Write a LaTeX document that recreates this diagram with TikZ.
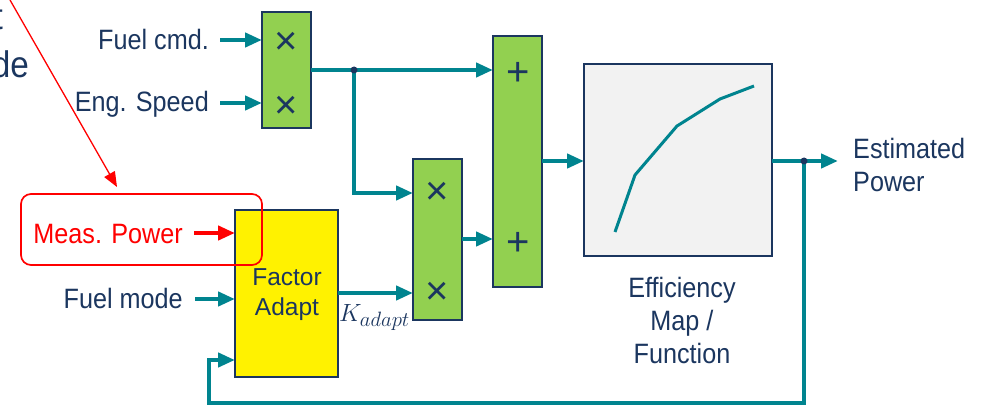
\documentclass[tikz,border=0pt]{standalone}
\usepackage{fontspec}
\setmainfont[FakeStretch=0.9]{Liberation Sans}
\newfontfamily\fafont{Liberation Sans}
\usetikzlibrary{arrows.meta}
\definecolor{navy}{HTML}{1B365F}
\definecolor{tealc}{HTML}{00848F}
\definecolor{greenf}{HTML}{92D050}
\definecolor{redc}{HTML}{FF0000}
\definecolor{grayf}{HTML}{F2F2F2}
\begin{document}
\begin{tikzpicture}[x=1pt,y=-1pt,
  blk/.style={draw=navy, line width=2.5pt, anchor=north west, inner sep=0pt, outer sep=0pt},
  mulblk/.style={blk, fill=greenf},
  sym/.style={text=navy, inner sep=0pt, font=\fafont\fontsize{40}{40}\selectfont},
  lbl/.style={text=navy, inner sep=0pt, font=\fontsize{28}{33}\selectfont},
  conn/.style={draw=tealc, line width=4.5pt, -{Triangle[length=17pt,width=14pt]}},
  plain/.style={draw=tealc, line width=4.5pt},
  redconn/.style={draw=redc, line width=4.5pt, -{Triangle[length=17pt,width=14pt]}},
  dot/.style={circle, fill=navy, inner sep=0pt, minimum size=7pt}
]
\useasboundingbox (0,0) rectangle (982,406);
\clip (0,0) rectangle (982,406);

% clipped annotation fragments
\node[text=navy, inner sep=0pt, anchor=base east, font=\fontsize{37}{37}\selectfont] (cut1) at (3,30) {t};
\node[text=navy, inner sep=0pt, anchor=base east, font=\fontsize{37}{37}\selectfont] (cut2) at (29,78) {de};

% blocks
\node[mulblk, minimum width=49pt, minimum height=116pt] (m1) at (262,12) {};
\node[sym] (m1a) at (286,43) {×};
\node[sym] (m1b) at (286,107) {×};

\node[mulblk, minimum width=49pt, minimum height=161pt] (m2) at (413,159) {};
\node[sym] (m2a) at (437,193) {×};
\node[sym] (m2b) at (437,293) {×};

\node[mulblk, minimum width=49pt, minimum height=251pt] (sum) at (493,36) {};
\node[sym] (suma) at (518,74) {+};
\node[sym] (sumb) at (518,244) {+};

\node[blk, fill=yellow, minimum width=103pt, minimum height=167pt] (fa) at (235,210) {};
\node[text=navy, inner sep=0pt, align=center, font=\fafont\fontsize{24.5}{30}\selectfont] (fat) at (287,295) {Factor\\Adapt};

\node[blk, fill=grayf, minimum width=188pt, minimum height=192pt] (eff) at (584,64) {};
\draw[tealc, line width=3pt] (615,232) -- (635,175) -- (677,126) -- (720,99) -- (754,86);

% labels
\node[lbl, anchor=base east] (fcmd) at (209,50) {Fuel cmd.};
\node[lbl, anchor=base east] (espd) at (209,112) {Eng. Speed};
\node[lbl, anchor=base east, text=redc] (meas) at (183,243) {Meas. Power};
\node[lbl, anchor=base east] (fmode) at (183,308) {Fuel mode};
\node[lbl, align=center] (efft) at (682,320) {Efficiency\\Map /\\Function};
\node[lbl, align=left, anchor=west] (est) at (853,165) {Estimated\\Power};
\node[text=navy, inner sep=0pt, anchor=base west, font=\fontsize{28}{28}\selectfont] (kad) at (339,321) {$K_{adapt}$};

% highlight
\node[draw=redc, line width=1.7pt, rounded corners=10pt, minimum width=241pt, minimum height=71pt, inner sep=0pt] (hl) at (141.5,229.5) {};
\coordinate (rs) at (10,0);
\coordinate (rt) at (117,187);
\draw[draw=redc, line width=1.3pt, -{Triangle[length=15pt,width=12pt]}] (rs) -- (rt);

% coordinates
\coordinate (j1) at (354,70);
\coordinate (j2) at (804,161);
\coordinate (fb) at (209,403);
\coordinate (fain) at (235,360);
\coordinate (outend) at (838,161);

% connectors
\draw[conn] ([xshift=-42pt]m1.west |- 0,40) -- (m1.west |- 0,40);
\draw[conn] ([xshift=-42pt]m1.west |- 0,103) -- (m1.west |- 0,103);
\draw[redconn] (194,233) -- (fa.west |- 0,233);
\draw[conn] (195,299) -- (fa.west |- 0,299);
\draw[plain] (m1.east |- j1) -- (j1);
\draw[conn] (j1) -- (sum.west |- j1);
\draw[conn] (j1) |- (m2.west |- m2a);
\draw[conn] (fa.east |- m2b) -- (m2.west |- m2b);
\draw[conn] (m2.east |- 0,239) -- (sum.west |- 0,239);
\draw[conn] (sum.east |- j2) -- (eff.west |- j2);
\draw[conn] (eff.east |- j2) -- (outend);
\draw[conn] (j2) |- (fb) |- (fain);
\node[dot] (d1) at (j1) {};
\node[dot] (d2) at (j2) {};
\end{tikzpicture}
\end{document}
